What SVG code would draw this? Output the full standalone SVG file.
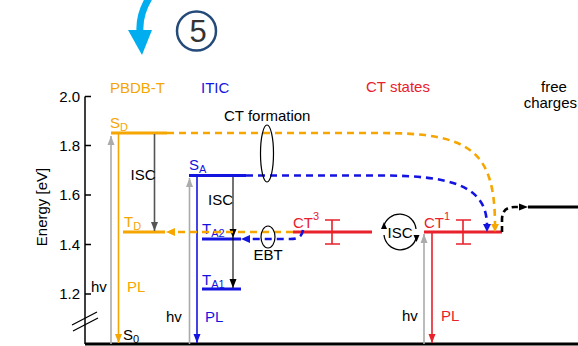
<svg xmlns="http://www.w3.org/2000/svg" width="578" height="346" viewBox="0 0 578 346">
<defs>
<style>
text{font-family:"Liberation Sans",Arial,sans-serif;font-size:15px;fill:#000}
.or{fill:#F5A600}.bl{fill:#1414E0}.rd{fill:#E8212B}
.lvO{stroke:#F5A600;stroke-width:3;fill:none}
.lvB{stroke:#1414E0;stroke-width:3;fill:none}
.lvR{stroke:#E8212B;stroke-width:3;fill:none}
.dO{stroke:#F5A600;stroke-width:2.6;fill:none;stroke-dasharray:7 5}
.dB{stroke:#1414E0;stroke-width:2.6;fill:none;stroke-dasharray:7 5}
.dK{stroke:#000;stroke-width:2.6;fill:none;stroke-dasharray:6 4}
.thin{fill:none;stroke-width:1.6}
.sub{font-size:11px}
</style>
<marker id="aO" markerUnits="userSpaceOnUse" markerWidth="10" markerHeight="8" refX="9" refY="4" orient="auto"><path d="M0,0.5 L9,4 L0,7.5z" fill="#F5A600"/></marker>
<marker id="aB" markerUnits="userSpaceOnUse" markerWidth="10" markerHeight="8" refX="9" refY="4" orient="auto"><path d="M0,0.5 L9,4 L0,7.5z" fill="#1414E0"/></marker>
<marker id="aR" markerUnits="userSpaceOnUse" markerWidth="10" markerHeight="8" refX="9" refY="4" orient="auto"><path d="M0,0.5 L9,4 L0,7.5z" fill="#E8212B"/></marker>
<marker id="aG" markerUnits="userSpaceOnUse" markerWidth="10" markerHeight="8" refX="9" refY="4" orient="auto"><path d="M0,0.5 L9,4 L0,7.5z" fill="#ABABAB"/></marker>
<marker id="aD" markerUnits="userSpaceOnUse" markerWidth="10" markerHeight="8" refX="9" refY="4" orient="auto"><path d="M0,0.5 L9,4 L0,7.5z" fill="#555"/></marker>
<marker id="aK" markerUnits="userSpaceOnUse" markerWidth="10" markerHeight="8" refX="9" refY="4" orient="auto"><path d="M0,0.5 L9,4 L0,7.5z" fill="#000"/></marker>
</defs>
<rect width="578" height="346" fill="#fff"/>

<g id="step-arrow">
<path d="M149,-2 C143,8 139,18 140,32" stroke="#00AEEF" stroke-width="7" fill="none"/>
<path d="M128,30 L152,30 L142,55z" fill="#00AEEF"/>
</g>
<g id="step-number">
<circle cx="196.5" cy="31" r="19.5" fill="none" stroke="#244A7A" stroke-width="2.5"/>
<text x="198" y="41.5" text-anchor="middle" style="font-size:31px;fill:#333">5</text>
</g>

<g id="axis">
<path d="M85,96.5 V344" stroke="#000" stroke-width="1.5" fill="none"/>
<path d="M85,96.5 H91 M85,145.5 H91 M85,195 H91 M85,244.5 H91 M85,294 H91" stroke="#000" stroke-width="1.5"/>
<path d="M72,325 L97,312 M73,331 L98,318" stroke="#000" stroke-width="1.3"/>
<path d="M85,344 H578" stroke="#000" stroke-width="3"/>
<text x="80" y="101.5" text-anchor="end">2.0</text>
<text x="80" y="150.5" text-anchor="end">1.8</text>
<text x="80" y="200" text-anchor="end">1.6</text>
<text x="80" y="249.5" text-anchor="end">1.4</text>
<text x="80" y="299" text-anchor="end">1.2</text>
<text transform="translate(47,207) rotate(-90)" text-anchor="middle">Energy [eV]</text>
</g>

<g id="headers">
<text x="110" y="93" class="or">PBDB-T</text>
<text x="201" y="93" class="bl">ITIC</text>
<text x="398" y="92" class="rd" text-anchor="middle">CT states</text>
<text x="554" y="92" text-anchor="middle">free</text>
<text x="577" y="108" text-anchor="end">charges</text>
</g>

<g id="S0"><text x="123" y="340">S<tspan class="sub" dy="3">0</tspan></text></g>

<g id="SD">
<path class="lvO" d="M111,133 H167"/>
<text x="110" y="128" class="or">S<tspan class="sub" dy="3">D</tspan></text>
</g>
<g id="TD">
<path class="lvO" d="M123,232 H165"/>
<text x="124" y="227" class="or">T<tspan class="sub" dy="3">D</tspan></text>
</g>
<g id="SA">
<path class="lvB" d="M189,175.5 H246"/>
<text x="189" y="170" class="bl">S<tspan class="sub" dy="3">A</tspan></text>
</g>
<g id="TA2">
<path class="lvB" d="M202,239 H241"/>
<text x="202" y="234" class="bl">T<tspan class="sub" dy="3">A2</tspan></text>
</g>
<g id="TA1">
<path class="lvB" d="M202,289 H241"/>
<text x="202" y="285" class="bl">T<tspan class="sub" dy="3">A1</tspan></text>
</g>
<g id="CT3">
<path class="lvR" d="M293,232 H372"/>
<path d="M332,220 V244 M325,220 H340 M325,244 H340" stroke="#E8212B" stroke-width="1.6" fill="none"/>
<text x="293" y="228" class="rd">CT<tspan style="font-size:11px" dy="-8">3</tspan></text>
</g>
<g id="ISC-CT">
<path d="M383.5,227 A16.5,16.5 0 0 1 416,229" stroke="#000" stroke-width="1.3" fill="none"/>
<path d="M416.5,237 A16.5,16.5 0 0 1 384,235" stroke="#000" stroke-width="1.3" fill="none"/>
<path d="M381,229 L387,229 L384,222z" fill="#000"/>
<path d="M413.5,235 L419.5,235 L416.5,242z" fill="#000"/>
<text x="400" y="237.5" text-anchor="middle">ISC</text>
</g>
<g id="CT1">
<path class="lvR" d="M424,232 H502"/>
<path d="M463,220 V244 M456,220 H471 M456,244 H471" stroke="#E8212B" stroke-width="1.6" fill="none"/>
<text x="424" y="228" class="rd">CT<tspan style="font-size:11px" dy="-8">1</tspan></text>
</g>
<g id="free-charges">
<path d="M528,207 H578" stroke="#000" stroke-width="3"/>
</g>

<g id="connectors">
<path class="thin" stroke="#ABABAB" d="M111,344 V136" marker-end="url(#aG)"/>
<path class="thin" stroke="#F5A600" d="M118.5,134 V343" marker-end="url(#aO)"/>
<path class="thin" stroke="#ABABAB" d="M189.5,344 V178" marker-end="url(#aG)"/>
<path class="thin" stroke="#1414E0" d="M197,177 V343" marker-end="url(#aB)"/>
<path class="thin" stroke="#ABABAB" d="M424,344 V234" marker-end="url(#aG)"/>
<path class="thin" stroke="#E8212B" d="M432,233 V343" marker-end="url(#aR)"/>
<path d="M154.5,134 V231" stroke="#555" stroke-width="1.6" fill="none" marker-end="url(#aD)"/>
<path d="M233,177 V238" stroke="#000" stroke-width="1.1" fill="none" marker-end="url(#aK)"/>
<path d="M233,238 V288" stroke="#000" stroke-width="1.1" fill="none" marker-end="url(#aK)"/>
<path class="dO" d="M167,133 H380 C470,133 495,150 495,226"/>
<path d="M491,224 L499,224 L495,232z" fill="#F5A600"/>
<path class="dB" d="M246,175.5 H380 C450,175.5 487,185 487,226"/>
<path d="M483,224 L491,224 L487,232z" fill="#1414E0"/>
<path class="dO" d="M293,232 H175"/>
<path d="M175,228 L175,236 L166,232z" fill="#F5A600"/>
<path class="dB" d="M303,230 C302,237 298,239 290,239 H250"/>
<path d="M250,235 L250,243 L241,239z" fill="#1414E0"/>
<path class="dK" d="M502,232 V220 C502,211 506,207 515,207 H520"/>
<path d="M519,203.5 L528,207 L519,210.5z" fill="#000"/>
<ellipse cx="267" cy="153.5" rx="6.5" ry="28.5" fill="none" stroke="#000" stroke-width="1.2"/>
<ellipse cx="268" cy="237" rx="7" ry="11" fill="none" stroke="#000" stroke-width="1.2"/>
</g>

<g id="labels">
<text x="91" y="292">hv</text>
<text x="127" y="292" class="or">PL</text>
<text x="166" y="322">hv</text>
<text x="205" y="322" class="bl">PL</text>
<text x="402" y="321">hv</text>
<text x="441" y="321" class="rd">PL</text>
<text x="130.5" y="180">ISC</text>
<text x="208" y="205">ISC</text>
<text x="224" y="121">CT formation</text>
<text x="268" y="260" text-anchor="middle">EBT</text>
</g>
</svg>
